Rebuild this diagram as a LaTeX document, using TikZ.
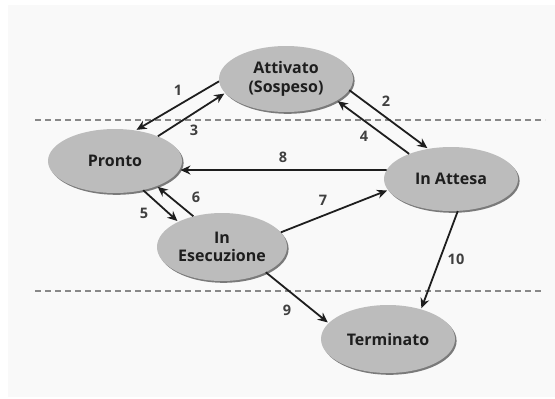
\documentclass[tikz,border=0pt]{standalone}
\usepackage{fontspec}
\setmainfont{Open Sans}
\usetikzlibrary{arrows.meta,shapes.geometric,shadows}
\definecolor{fillg}{HTML}{BCBCBC}
\definecolor{shadg}{HTML}{7A7A7A}
\definecolor{ink}{HTML}{1E1E1E}
\definecolor{dashg}{HTML}{888888}
\definecolor{paper}{HTML}{F9F9F9}
\begin{document}
\begin{tikzpicture}[x=1pt,y=-1pt,
  state/.style={ellipse, fill=fillg, inner sep=0pt, align=center,
    minimum width=134pt, minimum height=66pt,
    font=\bfseries\fontsize{16}{18.5}\selectfont, text=ink,
    drop shadow={shadow xshift=1.6pt, shadow yshift=-1.8pt, fill=shadg, opacity=1}},
  conn/.style={draw=ink, line width=1.8pt, -{Stealth[length=10pt,width=9pt]}, shorten >=1pt},
  lbl/.style={font=\bfseries\fontsize{14.5}{16}\selectfont, text=ink!85},
  sep/.style={draw=dashg, line width=2pt, dash pattern=on 6pt off 4pt}]
\useasboundingbox (0,0) rectangle (555,399);
\fill[white] (0,0) rectangle (555,399);
\fill[paper] (8,5) rectangle (555,397);
% separators
\coordinate (d1a) at (35,120);
\coordinate (d1b) at (545,120);
\coordinate (d2a) at (35,291);
\coordinate (d2b) at (541,291);
\draw[sep] (d1a) -- (d1b);
\draw[sep] (d2a) -- (d2b);
% states
\node[state] (att) at (286,79) {Attivato\\(Sospeso)};
\node[state] (pro) at (115,161) [minimum height=64pt] {Pronto};
\node[state] (ia) at (451,179) [minimum height=64pt] {In Attesa};
\node[state] (es) at (222,247) [minimum width=130pt, minimum height=68pt] {In\\Esecuzione};
\node[state] (te) at (388,339) [minimum height=68pt] {Terminato};
% transitions
\draw[conn] (att.182) -- (pro.56);
\draw[conn] (pro.30) -- (att.193);
\draw[conn] (att.-10) -- (ia.127);
\draw[conn] (ia.149) -- (att.-23);
\draw[conn] (ia.172) -- (pro.-8);
\draw[conn] (pro.-46) -- (es.150);
\draw[conn] (es.133) -- (pro.-31);
\draw[conn] (es.14) -- (ia.190);
\draw[conn] (es.-30) -- (te.165);
\draw[conn] (ia.-78) -- (te.42);
% labels
\node[lbl] (l1) at (178,90) {1};
\node[lbl] (l2) at (386,101) {2};
\node[lbl] (l3) at (194,130) {3};
\node[lbl] (l4) at (364,136) {4};
\node[lbl] (l8) at (283,157) {8};
\node[lbl] (l5) at (144,213) {5};
\node[lbl] (l6) at (196,197) {6};
\node[lbl] (l7) at (323,200) {7};
\node[lbl] (l10) at (456,259) {10};
\node[lbl] (l9) at (287,310) {9};
\end{tikzpicture}
\end{document}
